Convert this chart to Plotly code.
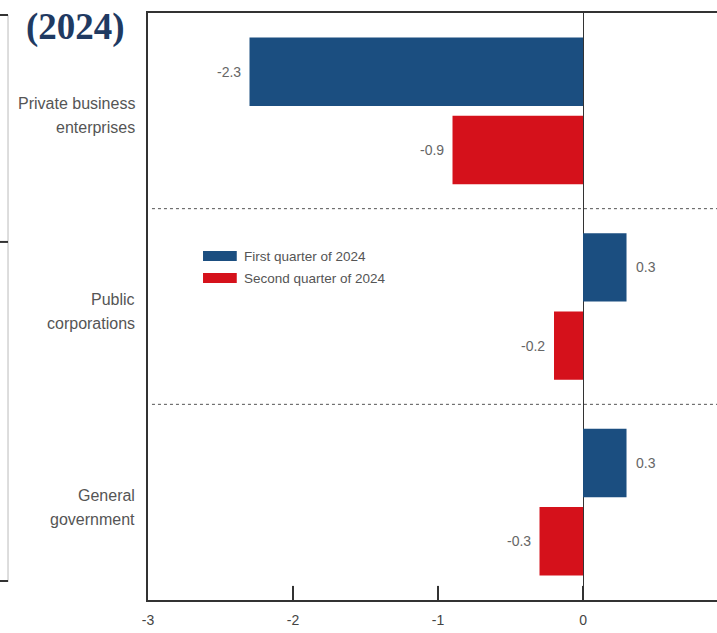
import plotly.graph_objects as go

# Sectors (top to bottom) and quarterly values
sector_lines = [("Private business", "enterprises"),
                ("Public", "corporations"),
                ("General", "government")]
sectors = [" ".join(p) for p in sector_lines]
series_names = ["First quarter of 2024", "Second quarter of 2024"]
q1_values = [-2.3, 0.3, 0.3]
q2_values = [-0.9, -0.2, -0.3]
x_ticks = [-3, -2, -1, 0]

BLUE = "#1b4e80"
RED = "#d5111b"
TEXT = "#555555"
AXIS = "#333333"
FONT = "Liberation Sans, Arial, sans-serif"

fig = go.Figure()
for name, vals, color in [(series_names[0], q1_values, BLUE),
                          (series_names[1], q2_values, RED)]:
    fig.add_trace(go.Bar(
        y=sectors, x=vals, name=name, orientation="h",
        marker=dict(color=color, line=dict(width=0)),
        showlegend=False,
    ))

annotations = []

# Sector names, two lines each, right-aligned beside the axis
for i, (l1, l2) in enumerate(sector_lines):
    for text, shift in [(l1, 7), (l2, -17)]:
        annotations.append(dict(
            x=-0.0193, y=i, xref="paper", yref="y", yshift=shift,
            text=text, showarrow=False, xanchor="right", yanchor="middle",
            font=dict(family=FONT, size=16, color=TEXT),
        ))

# Value labels beside each bar end
for k, vals in enumerate([q1_values, q2_values]):
    off = -0.2 if k == 0 else 0.2
    for i, v in enumerate(vals):
        annotations.append(dict(
            x=v, y=i + off, xref="x", yref="y",
            text=f"{v:.1f}", showarrow=False,
            xanchor="right" if v < 0 else "left",
            xshift=-7 if v < 0 else 7,
            font=dict(family=FONT, size=14, color="#666666"),
        ))

# Legend drawn as swatches and labels inside the plot
shapes = []
legend_colors = [BLUE, RED]
for k, name in enumerate(series_names):
    yc = 0.586 - k * 0.0375
    shapes.append(dict(type="rect", xref="paper", yref="paper",
                       x0=0.0967, x1=0.156, y0=yc - 0.0085, y1=yc + 0.0085,
                       fillcolor=legend_colors[k], line=dict(width=0)))
    annotations.append(dict(x=0.1657, y=yc, xref="paper", yref="paper",
                            text=name, showarrow=False, xanchor="left",
                            yanchor="middle",
                            font=dict(family=FONT, size=13.5, color=TEXT)))

# Dashed separators between sectors
for b in [0.5, 1.5]:
    shapes.append(dict(type="line", xref="paper", yref="y",
                       x0=0.007, x1=1, y0=b, y1=b,
                       line=dict(color="#555555", width=1, dash="3px,3px")))

# Inward tick marks on the value axis
for t in x_ticks[1:]:
    shapes.append(dict(type="line", xref="x", yref="paper",
                       x0=t, x1=t, y0=0, y1=0.024,
                       line=dict(color=AXIS, width=2)))

# Neighbouring panel frame fragment on the far left
shapes.append(dict(type="line", xref="paper", yref="paper",
                   x0=-0.246, x1=-0.246, y0=0.0307, y1=0.9966,
                   line=dict(color="#bbbbbb", width=1)))
for yp in [0.9966, 0.61, 0.0324]:
    shapes.append(dict(type="line", xref="paper", yref="paper",
                       x0=-0.262, x1=-0.246, y0=yp, y1=yp,
                       line=dict(color="#333333", width=2)))

# Panel heading
annotations.append(dict(x=-0.218, y=0.976, xref="paper", yref="paper",
                        text="<b>(2024)</b>", showarrow=False,
                        xanchor="left", yanchor="middle",
                        font=dict(family="Liberation Serif, serif", size=37,
                                  color="#1f3a62")))

fig.update_layout(
    width=717, height=633,
    margin=dict(l=148, r=0, t=13, b=33),
    paper_bgcolor="white", plot_bgcolor="white",
    barmode="group", bargap=0.2, bargroupgap=0.125,
    shapes=shapes, annotations=annotations,
    font=dict(family=FONT, color=TEXT),
)
fig.update_xaxes(
    range=[-3, 0.924], tickvals=x_ticks, ticktext=[str(t) for t in x_ticks],
    ticks="",
    showline=True, linecolor=AXIS, linewidth=2, mirror=True,
    showgrid=False, zeroline=True, zerolinecolor=AXIS, zerolinewidth=1,
    ticklabelstandoff=6,
    tickfont=dict(family=FONT, size=14, color="#444444"),
)
fig.update_yaxes(
    categoryorder="array", categoryarray=sectors, autorange="reversed",
    showline=True, linecolor=AXIS, linewidth=2, showgrid=False,
    ticks="", showticklabels=False,
)

fig.write_html("out.html")
